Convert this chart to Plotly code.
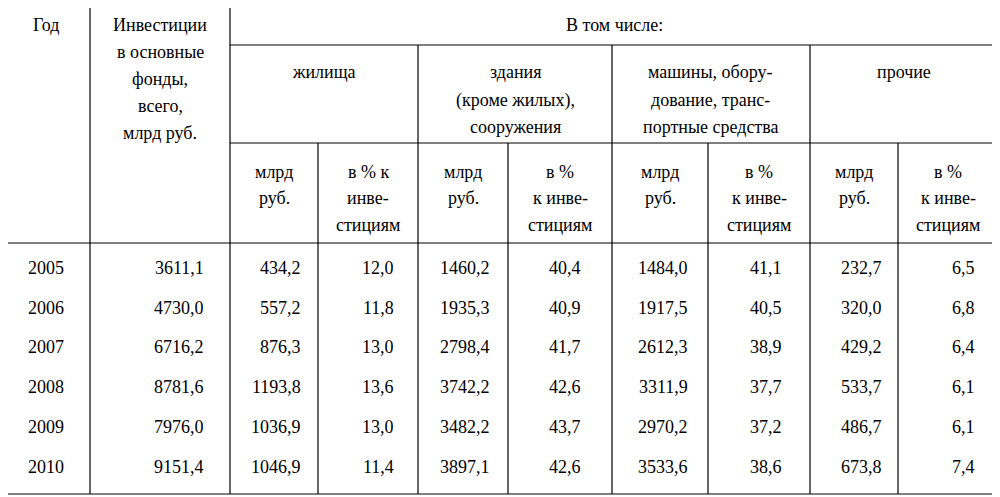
import plotly.graph_objects as go

years = ["2005", "2006", "2007", "2008", "2009", "2010"]
total = ["3611,1", "4730,0", "6716,2", "8781,6", "7976,0", "9151,4"]
housing = ["434,2", "557,2", "876,3", "1193,8", "1036,9", "1046,9"]
housing_pct = ["12,0", "11,8", "13,0", "13,6", "13,0", "11,4"]
buildings = ["1460,2", "1935,3", "2798,4", "3742,2", "3482,2", "3897,1"]
buildings_pct = ["40,4", "40,9", "41,7", "42,6", "43,7", "42,6"]
machines = ["1484,0", "1917,5", "2612,3", "3311,9", "2970,2", "3533,6"]
machines_pct = ["41,1", "40,5", "38,9", "37,7", "37,2", "38,6"]
other = ["232,7", "320,0", "429,2", "533,7", "486,7", "673,8"]
other_pct = ["6,5", "6,8", "6,4", "6,1", "6,1", "7,4"]

FONT = dict(family="Liberation Serif", size=18, color="black")
fig = go.Figure()
shapes = []
ann = []

def line(x0, y0, x1, y1, w=1.2):
    shapes.append(dict(type="line", xref="x", yref="y", x0=x0, y0=y0, x1=x1, y1=y1,
                       line=dict(color="black", width=w)))

def txt(x, y, s, anchor="center"):
    ann.append(dict(x=x, y=y, xref="x", yref="y", text=s, showarrow=False,
                    xanchor=anchor, yanchor="middle", font=FONT))

L, R, T, B = 2, 998, 3, 494
HB = 243
line(L, T, R, T); line(L, B, R, B); line(L, T, L, B); line(R, T, R, B)
line(L, HB, R, HB)
line(90, T, 90, B); line(230, T, 230, B)
line(230, 45, R, 45)
line(230, 143, R, 143)
for x in [418, 612, 810]:
    line(x, 45, x, B)
for x in [318, 508, 708, 898]:
    line(x, 143, x, B)

txt(46, 25, "Год")
for y, s in zip([25, 52, 79, 106, 133], ["Инвестиции", "в основные", "фонды,", "всего,", "млрд руб."]):
    txt(160, y, s)
txt(614, 25, "В том числе:")
txt(324, 72, "жилища")
for y, s in zip([72, 100, 127], ["здания", "(кроме жилых),", "сооружения"]):
    txt(515, y, s)
for y, s in zip([72, 100, 127], ["машины, обору-", "дование, транс-", "портные средства"]):
    txt(710, y, s)
txt(904, 72, "прочие")
for cx0, cx1 in [(230, 318), (418, 508), (612, 708), (810, 898)]:
    c = (cx0 + cx1) / 2
    txt(c, 172, "млрд"); txt(c, 198, "руб.")
for cx0, cx1 in [(318, 418), (508, 612), (708, 810), (898, 998)]:
    c = (cx0 + cx1) / 2
    txt(c, 172, "в % к" if cx0 == 318 else "в %")
    txt(c, 198, "инве-" if cx0 == 318 else "к инве-")
    txt(c, 225, "стициям")

row_y = [268, 308, 347, 387, 427, 467]
cols = [(total, 206), (housing, 303), (housing_pct, 396), (buildings, 492), (buildings_pct, 583),
        (machines, 690), (machines_pct, 784), (other, 884), (other_pct, 977)]
for i, y in enumerate(row_y):
    txt(46, y, years[i])
    for data, xr in cols:
        txt(xr, y, data[i], anchor="right")

# page body has an 8px margin; offset the axis ranges to compensate
fig.update_layout(width=1000, height=497, margin=dict(l=0, r=0, t=0, b=0),
                  plot_bgcolor="white", paper_bgcolor="white", shapes=shapes, annotations=ann,
                  xaxis=dict(range=[8, 1008], visible=False, fixedrange=True),
                  yaxis=dict(range=[505, 8], visible=False, fixedrange=True), showlegend=False)
fig.write_html("out.html")
